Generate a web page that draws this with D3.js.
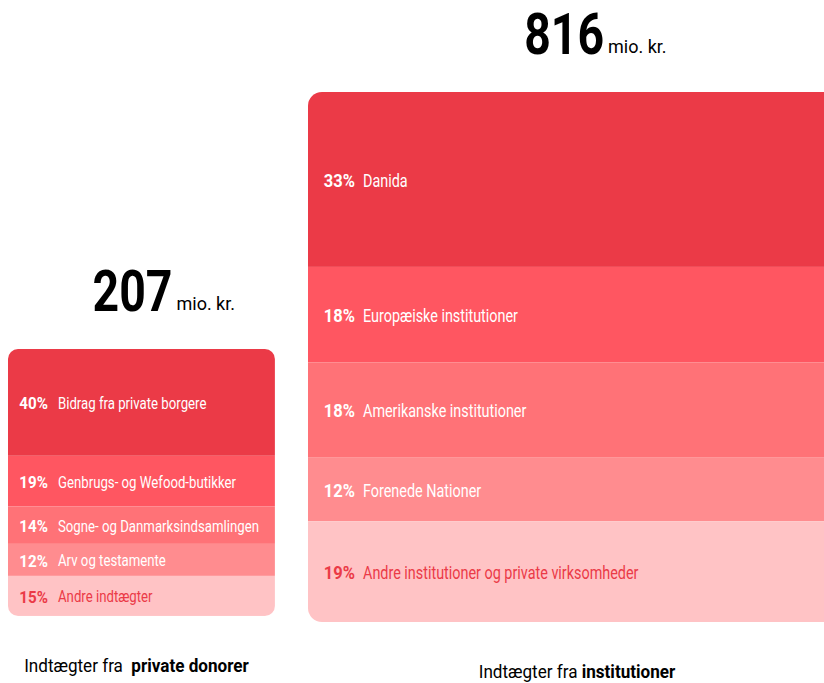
<!DOCTYPE html>
<html>
<head>
<meta charset="utf-8">
<script src="https://cdn.jsdelivr.net/npm/d3@7"></script>
<style>
  body { margin: 0; background: #fff; }
  svg { display: block; font-family: Roboto, "Noto Sans", sans-serif; }
</style>
</head>
<body>
<svg id="chart" width="824" height="683"></svg>
<script>
// totals in mio. kr.
const totals = [207, 816];
const groupLead = ["Indtægter fra  ", "Indtægter fra "];
const groupBold = ["private donorer", "institutioner"];

const privateCats = ["Bidrag fra private borgere", "Genbrugs- og Wefood-butikker", "Sogne- og Danmarksindsamlingen", "Arv og testamente", "Andre indtægter"];
const privateShares = [40, 19, 14, 12, 15];

const instCats = ["Danida", "Europæiske institutioner", "Amerikanske institutioner", "Forenede Nationer", "Andre institutioner og private virksomheder"];
const instShares = [33, 18, 18, 12, 19];

const colors = ["#eb3a47", "#ff5661", "#ff7277", "#ff8c8f", "#ffc3c5"];
const textColors = ["#fff", "#fff", "#fff", "#fff", "#eb3a47"];

// layout per box
const boxes = [
  { x: 8, top: 349, pctEnd: 40, labelX: 50, fs: 16.5, capDx: -5, captionY: 672, cats: privateCats, shares: privateShares },
  { x: 308, top: 92, pctEnd: 47, labelX: 55, fs: 18, capDx: 4, captionY: 678, cats: instCats, shares: instShares }
];

const NARROW = 0.8; // no condensed font installed, squeeze horizontally

const svg = d3.select("#chart");
const side = d3.scaleSqrt().domain([0, d3.max(totals)]).range([0, 530]);

// text in a horizontally squeezed group
function label(parent, x, y, sx) {
  return parent.append("g")
    .attr("transform", `translate(${x},${y}) scale(${sx},1)`)
    .append("text");
}

boxes.forEach((b, i) => {
  const s = side(totals[i]);
  const y = d3.scaleLinear().domain([0, d3.sum(b.shares)]).range([b.top, b.top + s]);
  const cum = d3.cumsum(b.shares);
  const segs = b.shares.map((v, j) => ({ cat: b.cats[j], v, y0: cum[j] - v, y1: cum[j], j }));

  svg.append("clipPath").attr("id", "clip" + i)
    .append("rect")
    .attr("x", b.x).attr("y", b.top)
    .attr("width", s).attr("height", s)
    .attr("rx", i === 0 ? 10 : 14);

  const g = svg.append("g").attr("clip-path", `url(#clip${i})`);
  g.selectAll("rect").data(segs).join("rect")
    .attr("x", b.x)
    .attr("y", d => y(d.y0))
    .attr("width", s)
    .attr("height", d => y(d.y1) - y(d.y0))
    .attr("fill", d => colors[d.j]);

  segs.forEach(d => {
    const cy = (y(d.y0) + y(d.y1)) / 2 + 1;
    label(svg, b.x + b.pctEnd, cy, 0.92)
      .attr("text-anchor", "end")
      .attr("dominant-baseline", "central")
      .attr("font-size", b.fs)
      .attr("font-weight", "bold")
      .attr("fill", textColors[d.j])
      .text(d.v + "%");
    label(svg, b.x + b.labelX, cy, NARROW)
      .attr("dominant-baseline", "central")
      .attr("font-size", b.fs)
      .attr("fill", textColors[d.j])
      .text(d.cat);
  });

  // total above the box
  const cx = b.x + s / 2;
  label(svg, cx + 31, b.top - 38, 0.8)
    .attr("text-anchor", "end")
    .attr("font-size", 58)
    .attr("font-weight", "bold")
    .attr("fill", "#000")
    .text(totals[i]);
  label(svg, cx + 35, b.top - 39, 1)
    .attr("font-size", 18)
    .attr("fill", "#000")
    .text("mio. kr.");

  // caption below
  const cap = label(svg, cx + b.capDx, b.captionY, 0.9)
    .attr("text-anchor", "middle")
    .attr("font-size", 19)
    .attr("fill", "#000")
    .attr("xml:space", "preserve")
    .style("white-space", "pre");
  cap.append("tspan").text(groupLead[i]);
  cap.append("tspan").attr("font-weight", "bold").text(groupBold[i]);
});
</script>
</body>
</html>
